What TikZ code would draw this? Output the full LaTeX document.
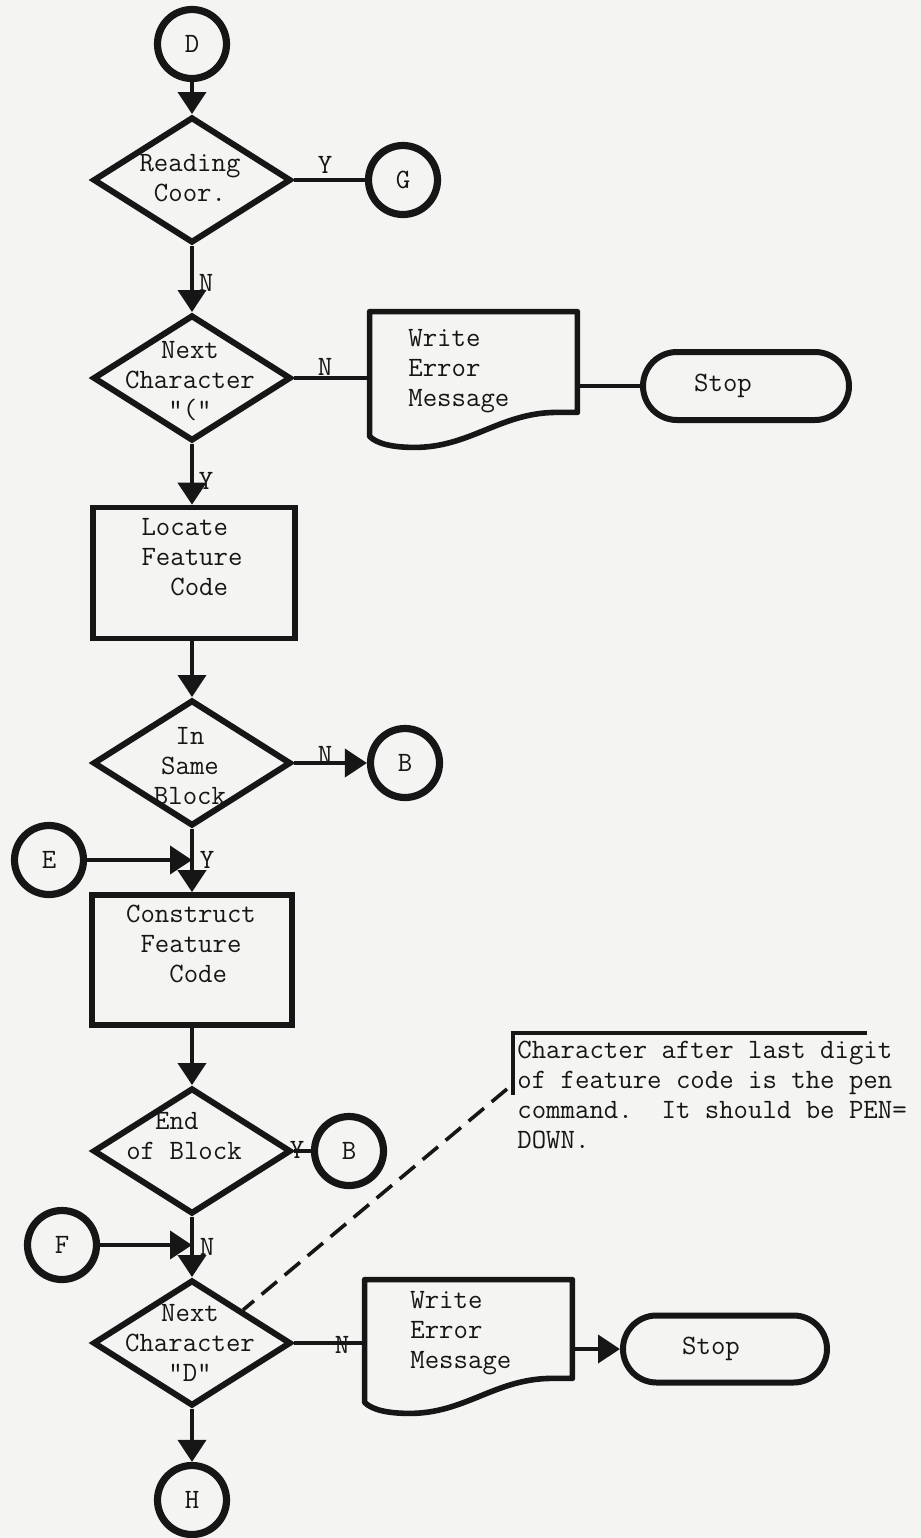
\documentclass[tikz,border=0pt]{standalone}
\usepackage{fontspec}
\usetikzlibrary{arrows.meta,shapes.geometric,shapes.misc,calc}
\definecolor{ink}{RGB}{22,22,22}
\definecolor{paper}{RGB}{244,244,242}
\newcommand\docpath[1]{%
  \draw[docline] (#1.south east) -- (#1.north east) -- (#1.north west)
    -- ($(#1.south west)+(0,24)$)
    .. controls ($(#1.south west)+(8,32)$) and ($(#1.south west)+(25,35)$) .. ($(#1.south west)+(45,35)$)
    .. controls ($(#1.south west)+(100,35)$) and ($(#1.south west)+(130,1)$) .. ($(#1.south west)+(185,0)$)
    -- cycle;}
\begin{document}
\begin{tikzpicture}[x=0.5pt,y=-0.5pt,
  every node/.style={font=\ttfamily\fontsize{14pt}{15pt}\selectfont, text=ink},
  dec/.style={diamond, draw=ink, line width=3pt, minimum width=99pt, minimum height=63pt, inner sep=0pt},
  cnode/.style={circle, draw=ink, line width=3.6pt, minimum size=34.5pt, inner sep=0pt},
  proc/.style={rectangle, draw=ink, line width=2.8pt, inner sep=0pt},
  term/.style={rounded rectangle, draw=ink, line width=3pt, minimum width=103pt, minimum height=34pt, inner sep=0pt},
  docframe/.style={rectangle, inner sep=0pt, minimum width=103.5pt},
  docline/.style={draw=ink, line width=2.8pt, line join=round},
  flow/.style={draw=ink, line width=2pt},
  arr/.style={flow, -{Triangle[width=14pt,length=11pt]}},
  lbl/.style={inner sep=0pt},
  txt/.style={inner sep=0pt},
  note/.style={draw=ink, line width=1.8pt, dash pattern=on 10pt off 5pt},
  bracket/.style={draw=ink, line width=2pt}]
\fill[paper] (0,0) rectangle (921,1538);
\useasboundingbox (0,0) rectangle (921,1538);

% ---- nodes ----
\node[cnode] (D) at (192,44) {D};
\node[dec] (d1) at (192,180) {};
\node[txt, align=center] (d1t) at (190,178) {Reading\\Coor.};
\node[cnode] (G) at (403,180) {G};

\node[dec] (d2) at (192,378) {};
\node[txt, align=center] (d2t) at (190,381) {Next\\Character\\"("};
\node[docframe, minimum height=50pt] (w1) at (473.5,362) {};
\node[txt, align=left, anchor=west] (w1t) at (408,371) {Write\\Error\\Message};
\node[term] (s1) at (746,386) {Stop\hspace*{23pt}};

\node[proc, minimum width=101pt, minimum height=65.5pt] (loc) at (194,573) {};
\node[txt, align=left] (loct) at (192,557) {Locate\\Feature\\\phantom{Fe}Code};

\node[dec] (d3) at (192,763) {};
\node[txt, align=center] (d3t) at (190,766) {In\\Same\\Block};
\node[cnode] (B1) at (405,763) {B};
\node[cnode] (E) at (49,860) {E};
\coordinate (ej) at (192,860);

\node[proc, minimum width=100pt, minimum height=65pt] (con) at (192,960) {};
\node[txt, align=left] (cont) at (191,944) {Construct\\\phantom{C}Feature\\\phantom{Con}Code};

\node[dec] (d4) at (192,1151) {};
\node[txt, align=left] (d4t) at (184,1136) {\phantom{of}End\\of Block};
\node[cnode] (B2) at (349,1151) {B};
\node[cnode] (F) at (62,1245) {F};
\coordinate (fj) at (192,1245);

\node[dec] (d5) at (192,1343) {};
\node[txt, align=center] (d5t) at (190,1343) {Next\\Character\\"D"};
\node[docframe, minimum height=49pt] (w2) at (468.5,1329) {};
\node[txt, align=left, anchor=west] (w2t) at (410,1333) {Write\\Error\\Message};
\node[term, minimum width=102pt, minimum height=33.5pt] (s2) at (725,1349) {Stop\hspace*{14pt}};
\node[cnode] (H) at (192,1500) {H};

% annotation
\coordinate (anc) at (513,1033);
\coordinate (anh) at (867,1033);
\coordinate (anv) at (513,1095);
\coordinate (dashA) at (507,1089);
\node[txt, align=left, anchor=north west] (ann) at (517,1041)
  {Character after last digit\\of feature code is the pen\\command.~~It should be PEN=\\DOWN.};

% ---- document shapes ----
\docpath{w1}
\docpath{w2}

% ---- connectors ----
\draw[arr] (D) -- (d1);
\draw[flow] (d1) -- (G);
\draw[arr] (d1) -- (d2);
\draw[flow] (d2.east) -- (d2.east -| w1.west);
\draw[flow] (s1.west -| w1.east) -- (s1.west);
\draw[arr] (d2.south) -- (d2.south |- loc.north);
\draw[arr] (loc.south -| d3.north) -- (d3.north);
\draw[arr] (d3) -- (B1);
\draw[arr] (d3) -- (con);
\draw[arr] (E) -- (ej);
\draw[arr] (con) -- (d4);
\draw[flow] (d4) -- (B2);
\draw[arr] (d4) -- (d5);
\draw[arr] (F) -- (fj);
\draw[arr] (d5) -- (H);
\draw[flow] (d5.east) -- (d5.east -| w2.west);
\draw[arr] (s2.west -| w2.east) -- (s2.west);
\draw[bracket] (anv) -- (anc) -- (anh);
\draw[note] (dashA) -- (d5.north east);

% ---- labels ----
\node[lbl] (lY1) at (325,165) {Y};
\node[lbl] (lN1) at (206,283) {N};
\node[lbl] (lN2) at (325,367) {N};
\node[lbl] (lY2) at (206,481) {Y};
\node[lbl] (lN3) at (325,755) {N};
\node[lbl] (lY3) at (207,860) {Y};
\node[lbl] (lY4) at (297,1150) {Y};
\node[lbl] (lN4) at (207,1247) {N};
\node[lbl] (lN5) at (342,1345) {N};
\end{tikzpicture}
\end{document}
